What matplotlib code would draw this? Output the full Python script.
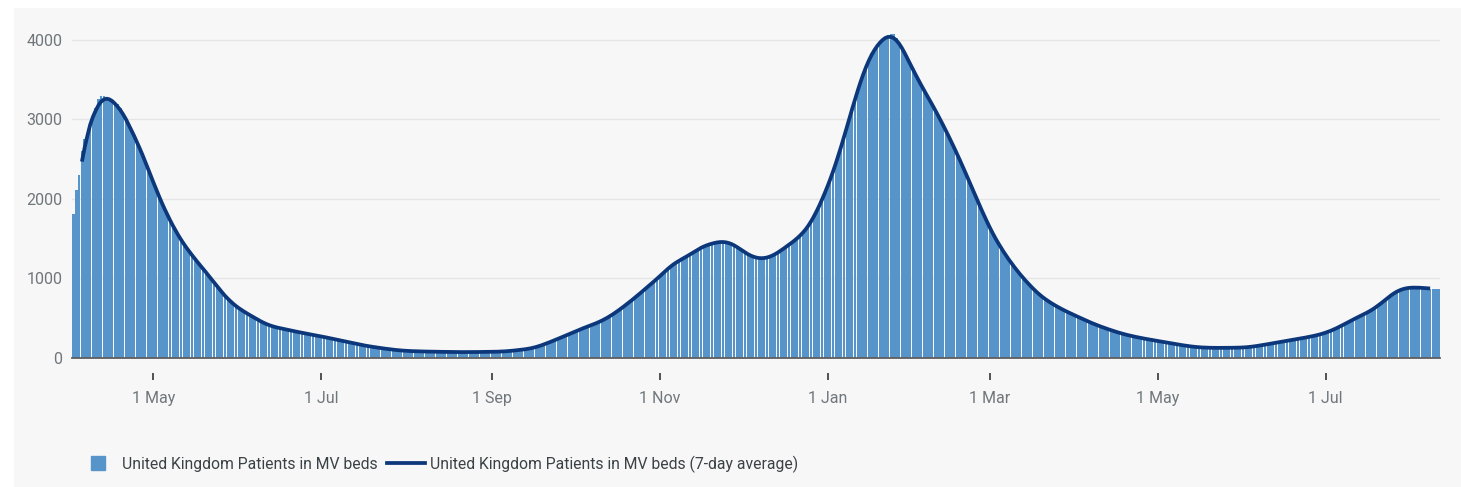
import numpy as np
import pandas as pd
import matplotlib
matplotlib.use("Agg")
import matplotlib.pyplot as plt
import matplotlib.dates as mdates
from matplotlib.lines import Line2D
from matplotlib.patches import Rectangle
from matplotlib.ticker import FuncFormatter

plt.rcParams['font.family'] = ['Roboto', 'DejaVu Sans']

# daily patients in MV beds, one list per month
apr20 = [1810, 2110, 2300, 2600, 2750, 2800, 2920, 3050, 3150, 3260, 3300, 3290, 3270, 3250, 3240,
         3220, 3200, 3150, 3060, 3000, 2940, 2870, 2800, 2720, 2650, 2560, 2470, 2390, 2300]
may20 = [2200, 2110, 2030, 1950, 1870, 1800, 1730, 1660, 1600, 1540, 1480, 1430, 1380, 1340, 1290, 1250,
         1210, 1160, 1120, 1080, 1040, 1000, 960, 900, 860, 820, 780, 740, 705, 675, 650]
jun20 = [625, 600, 580, 560, 540, 520, 500, 480, 460, 440, 425, 405, 398, 390, 383, 375, 368, 360, 352,
         345, 338, 331, 324, 317, 310, 303, 297, 290, 284, 278]
jul20 = [272, 265, 258, 250, 242, 235, 228, 220, 213, 206, 199, 192, 186, 175, 168, 161, 155, 149, 143,
         138, 133, 128, 123, 118, 113, 109, 105, 101, 97, 94, 91]
aug20 = [89, 87, 86, 85, 84, 83, 82, 81, 80, 80, 79, 78, 78, 77, 77, 76, 76, 75, 75, 75, 74, 74, 74, 74,
         75, 75, 75, 76, 76, 77, 77]
sep20 = [78, 78, 79, 80, 81, 83, 86, 89, 93, 97, 101, 105, 109, 113, 118, 124, 134, 146, 158, 171, 185,
         198, 212, 226, 240, 255, 270, 285, 300, 315]
oct20 = [330, 345, 360, 373, 386, 398, 410, 424, 438, 452, 467, 483, 505, 525, 548, 572, 597, 622, 648,
         675, 702, 730, 758, 787, 816, 846, 876, 906, 936, 966, 995]
nov20 = [1025, 1055, 1090, 1125, 1160, 1190, 1210, 1225, 1240, 1255, 1275, 1300, 1325, 1350, 1372, 1390,
         1405, 1420, 1432, 1442, 1450, 1457, 1463, 1467, 1468, 1460, 1445, 1425, 1400, 1375]
dec20 = [1350, 1325, 1300, 1280, 1265, 1255, 1250, 1248, 1250, 1255, 1265, 1280, 1300, 1325, 1350, 1375,
         1400, 1425, 1450, 1475, 1500, 1530, 1565, 1605, 1650, 1700, 1760, 1830, 1910, 1990, 2070]
jan21 = [2150, 2240, 2330, 2430, 2540, 2660, 2780, 2900, 3020, 3140, 3260, 3380, 3490, 3590, 3680, 3760,
         3830, 3890, 3940, 3980, 4010, 4040, 4060, 4077, 4070, 4030, 3980, 3910, 3840, 3770, 3700]
feb21 = [3630, 3560, 3490, 3430, 3370, 3310, 3250, 3190, 3130, 3070, 3000, 2930, 2860, 2790, 2720, 2650,
         2580, 2500, 2420, 2340, 2260, 2180, 2100, 2020, 1940, 1860, 1780, 1700]
mar21 = [1630, 1565, 1500, 1440, 1385, 1330, 1280, 1230, 1180, 1135, 1090, 1050, 1010, 970, 930, 895,
         860, 825, 795, 765, 740, 715, 695, 675, 655, 635, 615, 598, 580, 565, 550]
apr21 = [535, 520, 500, 485, 470, 455, 440, 425, 410, 398, 386, 374, 362, 350, 338, 327, 316, 306, 297,
         288, 280, 272, 265, 258, 251, 244, 238, 232, 226, 220]
may21 = [214, 208, 202, 196, 190, 184, 178, 172, 166, 160, 155, 150, 145, 141, 137, 134, 132, 130, 129,
         128, 128, 127, 127, 127, 127, 128, 128, 129, 129, 130, 130]
jun21 = [131, 133, 136, 140, 145, 150, 156, 162, 168, 174, 180, 186, 192, 198, 204, 210, 216, 222, 228,
         234, 240, 246, 252, 258, 265, 272, 279, 287, 295, 304]
jul21 = [315, 328, 342, 357, 373, 390, 408, 427, 447, 467, 485, 502, 518, 534, 550, 567, 585, 605, 627,
         652, 680, 710, 740, 770, 798, 823, 845, 862, 873, 880, 884]
aug21 = [887, 888, 888, 886, 883, 880, 876, 872, 868, 870, 872]

months = [("2020-04-02", apr20), ("2020-05-01", may20), ("2020-06-01", jun20), ("2020-07-01", jul20),
          ("2020-08-01", aug20), ("2020-09-01", sep20), ("2020-10-01", oct20), ("2020-11-01", nov20),
          ("2020-12-01", dec20), ("2021-01-01", jan21), ("2021-02-01", feb21), ("2021-03-01", mar21),
          ("2021-04-01", apr21), ("2021-05-01", may21), ("2021-06-01", jun21), ("2021-07-01", jul21),
          ("2021-08-01", aug21)]

series = pd.concat([pd.Series(v, index=pd.date_range(d, periods=len(v), freq="D")) for d, v in months])
avg7 = series.rolling(7, center=True).mean().dropna()

tick_dates = pd.to_datetime(["2020-05-01", "2020-07-01", "2020-09-01", "2020-11-01",
                             "2021-01-01", "2021-03-01", "2021-05-01", "2021-07-01"])

bar_col = '#5694ca'
line_col = '#0c377a'
txt_grey = '#6f777b'
panel = '#f7f7f7'

W, H = 1461, 487
fig = plt.figure(figsize=(W / 100, H / 100), dpi=100)
fig.patch.set_facecolor('white')
fig.patches.append(Rectangle((14 / W, 0), 1 - 14 / W, 1 - 8 / H, transform=fig.transFigure,
                             facecolor=panel, edgecolor='none', zorder=-10))

ax = fig.add_axes([72 / W, 1 - 358 / H, (1440 - 72) / W, (358 - 32) / H])
ax.set_facecolor('none')

x = mdates.date2num(series.index)
ax.bar(x, series.values, width=0.87, color=bar_col, linewidth=0, zorder=2)
ax.plot(mdates.date2num(avg7.index), avg7.values, color=line_col, lw=2.7,
        solid_joinstyle='round', solid_capstyle='butt', zorder=3)

ax.set_xlim(mdates.date2num(series.index[0]) - 0.6, mdates.date2num(series.index[-1]) + 0.6)
ax.set_ylim(0, 4100)
ax.set_yticks([0, 1000, 2000, 3000, 4000])
ax.yaxis.grid(True, color='#e5e5e5', lw=1, zorder=0)
ax.set_axisbelow(True)
for s in ['top', 'right', 'left']:
    ax.spines[s].set_visible(False)
ax.spines['bottom'].set_color('#5f5f5f')
ax.spines['bottom'].set_linewidth(1.3)
ax.spines['bottom'].set_zorder(4)
ax.tick_params(axis='y', length=0, pad=7, labelsize=11.5, labelcolor=txt_grey)
ax.tick_params(axis='x', length=0, labelbottom=False)

# date ticks sit a little below the baseline
sec = ax.secondary_xaxis(-0.046)
sec.spines['bottom'].set_visible(False)
sec.set_xticks(mdates.date2num(tick_dates))
sec.xaxis.set_major_formatter(FuncFormatter(
    lambda v, p: f"{mdates.num2date(v).day} {mdates.num2date(v).strftime('%b')}"))
sec.tick_params(length=5, width=1.3, color='#444444', pad=8, labelsize=11.5, labelcolor=txt_grey)

handles = [Line2D([], [], marker='s', markersize=10.5, linestyle='none', color=bar_col),
           Line2D([], [], color=line_col, lw=2.7)]
labels = ["United Kingdom Patients in MV beds", "United Kingdom Patients in MV beds (7-day average)"]
fig.legend(handles, labels, loc='center left', bbox_to_anchor=(79 / W, 1 - 464 / H), ncol=2,
           frameon=False, borderpad=0, borderaxespad=0, handlelength=2.4, handletextpad=0.35,
           columnspacing=0.6, prop={'size': 11.3}, labelcolor='#3b4245')

fig.savefig("out.png", dpi=100, facecolor=fig.get_facecolor())
